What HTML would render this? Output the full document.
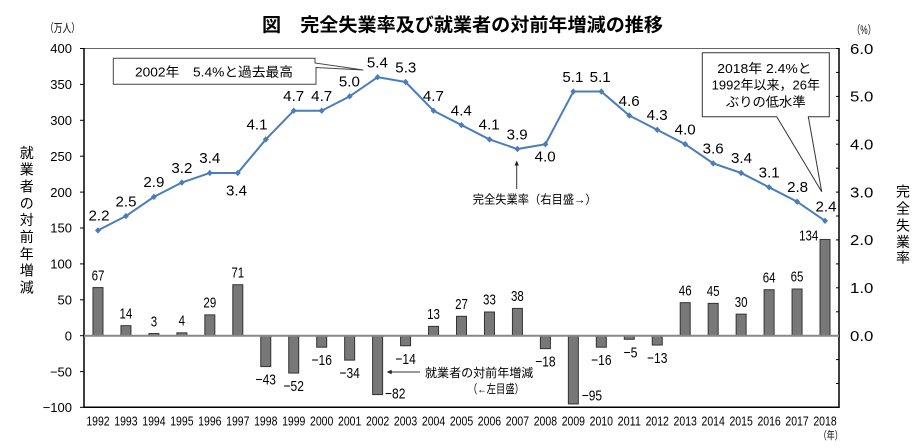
<!DOCTYPE html>
<html><head><meta charset="utf-8"><style>
html,body{margin:0;padding:0;background:#fff;}
svg{display:block;}
text{font-family:"Liberation Sans","Noto Sans CJK JP",sans-serif;fill:#000;}
</style></head><body>
<svg width="921" height="448" viewBox="0 0 921 448" xmlns="http://www.w3.org/2000/svg">

<!-- title -->
<text x="262" y="31.5" font-size="18.5" font-weight="bold" textLength="401" lengthAdjust="spacingAndGlyphs">図　完全失業率及び就業者の対前年増減の推移</text>
<text x="45" y="32" font-size="11.5" textLength="35" lengthAdjust="spacingAndGlyphs">（万人）</text>
<text x="852" y="34" font-size="11.5" textLength="24" lengthAdjust="spacingAndGlyphs">（%）</text>

<!-- frame -->
<line x1="84" y1="48.5" x2="839" y2="48.5" stroke="#666" stroke-width="1"/>
<line x1="84" y1="48" x2="84" y2="408" stroke="#000" stroke-width="1.5"/>
<line x1="839" y1="48" x2="839" y2="408" stroke="#000" stroke-width="1.5"/>
<line x1="83.5" y1="407.3" x2="839.5" y2="407.3" stroke="#000" stroke-width="1.5"/>

<!-- left ticks -->
<g stroke="#000" stroke-width="1">
<line x1="80" y1="48.5" x2="84" y2="48.5"/><line x1="80" y1="84.4" x2="84" y2="84.4"/>
<line x1="80" y1="120.3" x2="84" y2="120.3"/><line x1="80" y1="156.2" x2="84" y2="156.2"/>
<line x1="80" y1="192.1" x2="84" y2="192.1"/><line x1="80" y1="228" x2="84" y2="228"/>
<line x1="80" y1="263.9" x2="84" y2="263.9"/><line x1="80" y1="299.8" x2="84" y2="299.8"/>
<line x1="80" y1="335.7" x2="84" y2="335.7"/><line x1="80" y1="371.6" x2="84" y2="371.6"/>
<line x1="80" y1="407.3" x2="84" y2="407.3"/>
</g>
<!-- right ticks every 0.5 -->
<g stroke="#000" stroke-width="1">
<line x1="836" y1="48.5" x2="839" y2="48.5"/><line x1="836" y1="72.4" x2="839" y2="72.4"/>
<line x1="836" y1="96.4" x2="839" y2="96.4"/><line x1="836" y1="120.3" x2="839" y2="120.3"/>
<line x1="836" y1="144.2" x2="839" y2="144.2"/><line x1="836" y1="168.2" x2="839" y2="168.2"/>
<line x1="836" y1="192.1" x2="839" y2="192.1"/><line x1="836" y1="216" x2="839" y2="216"/>
<line x1="836" y1="239.9" x2="839" y2="239.9"/><line x1="836" y1="263.9" x2="839" y2="263.9"/>
<line x1="836" y1="287.8" x2="839" y2="287.8"/><line x1="836" y1="311.8" x2="839" y2="311.8"/>
<line x1="836" y1="335.7" x2="839" y2="335.7"/><line x1="836" y1="359.6" x2="839" y2="359.6"/>
<line x1="836" y1="383.5" x2="839" y2="383.5"/>
</g>

<!-- left axis labels -->
<g font-size="13" text-anchor="end">
<text x="72" y="53.2">400</text><text x="72" y="89.1">350</text><text x="72" y="125">300</text>
<text x="72" y="160.9">250</text><text x="72" y="196.8">200</text><text x="72" y="232.7">150</text>
<text x="72" y="268.6">100</text><text x="72" y="304.5">50</text><text x="72" y="340.4">0</text>
<text x="72" y="376.3">−50</text><text x="72" y="412">−100</text>
</g>
<!-- right axis labels -->
<g font-size="14.5">
<text x="850" y="53.8" textLength="23.3" lengthAdjust="spacingAndGlyphs">6.0</text>
<text x="850" y="101.7" textLength="23.3" lengthAdjust="spacingAndGlyphs">5.0</text>
<text x="850" y="149.5" textLength="23.3" lengthAdjust="spacingAndGlyphs">4.0</text>
<text x="850" y="197.4" textLength="23.3" lengthAdjust="spacingAndGlyphs">3.0</text>
<text x="850" y="245.2" textLength="23.3" lengthAdjust="spacingAndGlyphs">2.0</text>
<text x="850" y="293.1" textLength="23.3" lengthAdjust="spacingAndGlyphs">1.0</text>
<text x="850" y="341" textLength="23.3" lengthAdjust="spacingAndGlyphs">0.0</text>
</g>

<!-- vertical axis titles -->
<g font-size="14" text-anchor="middle">
<text x="26.7" y="157.8">就</text><text x="26.7" y="174.6">業</text><text x="26.7" y="191.5">者</text>
<text x="26.7" y="208.3">の</text><text x="26.7" y="225.2">対</text><text x="26.7" y="242">前</text>
<text x="26.7" y="258.9">年</text><text x="26.7" y="275.7">増</text><text x="26.7" y="292.6">減</text>
<text x="903" y="196.3">完</text><text x="903" y="213.3">全</text><text x="903" y="230.3">失</text>
<text x="903" y="246.8">業</text><text x="903" y="262.6">率</text>
</g>

<!-- bars -->
<g fill="#787878" stroke="#333" stroke-width="1">
<rect x="92.98" y="287.58" width="10" height="48.12"/>
<rect x="120.94" y="325.65" width="10" height="10.05"/>
<rect x="148.91" y="333.55" width="10" height="2.15"/>
<rect x="176.87" y="332.83" width="10" height="2.87"/>
<rect x="204.83" y="314.87" width="10" height="20.83"/>
<rect x="232.80" y="284.71" width="10" height="50.99"/>
<rect x="260.76" y="335.7" width="10" height="30.88"/>
<rect x="288.72" y="335.7" width="10" height="37.35"/>
<rect x="316.69" y="335.7" width="10" height="11.49"/>
<rect x="344.65" y="335.7" width="10" height="24.42"/>
<rect x="372.61" y="335.7" width="10" height="58.89"/>
<rect x="400.57" y="335.7" width="10" height="10.05"/>
<rect x="428.54" y="326.36" width="10" height="9.34"/>
<rect x="456.50" y="316.31" width="10" height="19.39"/>
<rect x="484.46" y="312.0" width="10" height="23.70"/>
<rect x="512.43" y="308.41" width="10" height="27.29"/>
<rect x="540.39" y="335.7" width="10" height="12.93"/>
<rect x="568.35" y="335.7" width="10" height="68.23"/>
<rect x="596.32" y="335.7" width="10" height="11.49"/>
<rect x="624.28" y="335.7" width="10" height="3.59"/>
<rect x="652.24" y="335.7" width="10" height="9.34"/>
<rect x="680.20" y="302.66" width="10" height="33.04"/>
<rect x="708.17" y="303.38" width="10" height="32.32"/>
<rect x="736.13" y="314.15" width="10" height="21.55"/>
<rect x="764.09" y="289.74" width="10" height="45.96"/>
<rect x="792.06" y="289.02" width="10" height="46.68"/>
<rect x="820.02" y="239.46" width="10" height="96.24"/>
</g>
<!-- zero line -->
<line x1="84" y1="335.7" x2="839" y2="335.7" stroke="#888" stroke-width="2"/>

<!-- bar labels -->
<g font-size="15" text-anchor="middle">
<text x="97.98" y="280.3" textLength="12.8" lengthAdjust="spacingAndGlyphs">67</text>
<text x="125.94" y="318.35" textLength="12.8" lengthAdjust="spacingAndGlyphs">14</text>
<text x="153.91" y="326.25" textLength="6.4" lengthAdjust="spacingAndGlyphs">3</text>
<text x="181.87" y="325.5" textLength="6.4" lengthAdjust="spacingAndGlyphs">4</text>
<text x="209.83" y="307.6" textLength="12.8" lengthAdjust="spacingAndGlyphs">29</text>
<text x="237.80" y="277.4" textLength="12.8" lengthAdjust="spacingAndGlyphs">71</text>
<text x="265.76" y="384.6" textLength="20.4" lengthAdjust="spacingAndGlyphs">−43</text>
<text x="293.72" y="391.05" textLength="20.4" lengthAdjust="spacingAndGlyphs">−52</text>
<text x="321.69" y="365.2" textLength="20.4" lengthAdjust="spacingAndGlyphs">−16</text>
<text x="349.65" y="378.1" textLength="20.4" lengthAdjust="spacingAndGlyphs">−34</text>
<text x="395.2" y="398.6" textLength="20.4" lengthAdjust="spacingAndGlyphs">−82</text>
<text x="405.57" y="363.75" textLength="20.4" lengthAdjust="spacingAndGlyphs">−14</text>
<text x="433.54" y="319.1" textLength="12.8" lengthAdjust="spacingAndGlyphs">13</text>
<text x="461.50" y="309.0" textLength="12.8" lengthAdjust="spacingAndGlyphs">27</text>
<text x="489.46" y="304.7" textLength="12.8" lengthAdjust="spacingAndGlyphs">33</text>
<text x="517.43" y="301.1" textLength="12.8" lengthAdjust="spacingAndGlyphs">38</text>
<text x="545.39" y="366.6" textLength="20.4" lengthAdjust="spacingAndGlyphs">−18</text>
<text x="591.9" y="400.3" textLength="20.4" lengthAdjust="spacingAndGlyphs">−95</text>
<text x="601.32" y="365.2" textLength="20.4" lengthAdjust="spacingAndGlyphs">−16</text>
<text x="630.5" y="357.3" textLength="14" lengthAdjust="spacingAndGlyphs">−5</text>
<text x="657.24" y="363.0" textLength="20.4" lengthAdjust="spacingAndGlyphs">−13</text>
<text x="685.20" y="295.4" textLength="12.8" lengthAdjust="spacingAndGlyphs">46</text>
<text x="713.17" y="296.1" textLength="12.8" lengthAdjust="spacingAndGlyphs">45</text>
<text x="741.13" y="306.9" textLength="12.8" lengthAdjust="spacingAndGlyphs">30</text>
<text x="769.09" y="282.4" textLength="12.8" lengthAdjust="spacingAndGlyphs">64</text>
<text x="797.06" y="281.7" textLength="12.8" lengthAdjust="spacingAndGlyphs">65</text>
<text x="808.7" y="240.3" textLength="19.2" lengthAdjust="spacingAndGlyphs">134</text>
</g>

<!-- category labels -->
<g font-size="13" text-anchor="middle">
<text x="97.98" y="425.3" textLength="23.3" lengthAdjust="spacingAndGlyphs">1992</text>
<text x="125.94" y="425.3" textLength="23.3" lengthAdjust="spacingAndGlyphs">1993</text>
<text x="153.91" y="425.3" textLength="23.3" lengthAdjust="spacingAndGlyphs">1994</text>
<text x="181.87" y="425.3" textLength="23.3" lengthAdjust="spacingAndGlyphs">1995</text>
<text x="209.83" y="425.3" textLength="23.3" lengthAdjust="spacingAndGlyphs">1996</text>
<text x="237.80" y="425.3" textLength="23.3" lengthAdjust="spacingAndGlyphs">1997</text>
<text x="265.76" y="425.3" textLength="23.3" lengthAdjust="spacingAndGlyphs">1998</text>
<text x="293.72" y="425.3" textLength="23.3" lengthAdjust="spacingAndGlyphs">1999</text>
<text x="321.69" y="425.3" textLength="23.3" lengthAdjust="spacingAndGlyphs">2000</text>
<text x="349.65" y="425.3" textLength="23.3" lengthAdjust="spacingAndGlyphs">2001</text>
<text x="377.61" y="425.3" textLength="23.3" lengthAdjust="spacingAndGlyphs">2002</text>
<text x="405.57" y="425.3" textLength="23.3" lengthAdjust="spacingAndGlyphs">2003</text>
<text x="433.54" y="425.3" textLength="23.3" lengthAdjust="spacingAndGlyphs">2004</text>
<text x="461.50" y="425.3" textLength="23.3" lengthAdjust="spacingAndGlyphs">2005</text>
<text x="489.46" y="425.3" textLength="23.3" lengthAdjust="spacingAndGlyphs">2006</text>
<text x="517.43" y="425.3" textLength="23.3" lengthAdjust="spacingAndGlyphs">2007</text>
<text x="545.39" y="425.3" textLength="23.3" lengthAdjust="spacingAndGlyphs">2008</text>
<text x="573.35" y="425.3" textLength="23.3" lengthAdjust="spacingAndGlyphs">2009</text>
<text x="601.32" y="425.3" textLength="23.3" lengthAdjust="spacingAndGlyphs">2010</text>
<text x="629.28" y="425.3" textLength="23.3" lengthAdjust="spacingAndGlyphs">2011</text>
<text x="657.24" y="425.3" textLength="23.3" lengthAdjust="spacingAndGlyphs">2012</text>
<text x="685.20" y="425.3" textLength="23.3" lengthAdjust="spacingAndGlyphs">2013</text>
<text x="713.17" y="425.3" textLength="23.3" lengthAdjust="spacingAndGlyphs">2014</text>
<text x="741.13" y="425.3" textLength="23.3" lengthAdjust="spacingAndGlyphs">2015</text>
<text x="769.09" y="425.3" textLength="23.3" lengthAdjust="spacingAndGlyphs">2016</text>
<text x="797.06" y="425.3" textLength="23.3" lengthAdjust="spacingAndGlyphs">2017</text>
<text x="825.02" y="425.3" textLength="23.3" lengthAdjust="spacingAndGlyphs">2018</text>
</g>
<text x="830.7" y="439" font-size="11" text-anchor="middle" textLength="24" lengthAdjust="spacingAndGlyphs">（年）</text>

<!-- rate line -->
<polyline fill="none" stroke="#4a7ebb" stroke-width="2" stroke-linejoin="round" points="97.98,230.39 125.94,216.02 153.91,196.88 181.87,182.52 209.83,172.94 237.80,172.94 265.76,139.43 293.72,110.71 321.69,110.71 349.65,96.35 377.61,77.20 405.57,81.99 433.54,110.71 461.50,125.07 489.46,139.43 517.43,149.01 545.39,144.22 573.35,91.56 601.32,91.56 629.28,115.50 657.24,129.86 685.20,144.22 713.17,163.37 741.13,172.94 769.09,187.30 797.06,201.66 825.02,220.81"/>
<g fill="#4a7ebb">
<path d="M97.98,227.19l3,3.2l-3,3.2l-3,-3.2z"/>
<path d="M125.94,212.82l3,3.2l-3,3.2l-3,-3.2z"/>
<path d="M153.91,193.68l3,3.2l-3,3.2l-3,-3.2z"/>
<path d="M181.87,179.32l3,3.2l-3,3.2l-3,-3.2z"/>
<path d="M209.83,169.74l3,3.2l-3,3.2l-3,-3.2z"/>
<path d="M237.80,169.74l3,3.2l-3,3.2l-3,-3.2z"/>
<path d="M265.76,136.23l3,3.2l-3,3.2l-3,-3.2z"/>
<path d="M293.72,107.51l3,3.2l-3,3.2l-3,-3.2z"/>
<path d="M321.69,107.51l3,3.2l-3,3.2l-3,-3.2z"/>
<path d="M349.65,93.15l3,3.2l-3,3.2l-3,-3.2z"/>
<path d="M377.61,74.00l3,3.2l-3,3.2l-3,-3.2z"/>
<path d="M405.57,78.79l3,3.2l-3,3.2l-3,-3.2z"/>
<path d="M433.54,107.51l3,3.2l-3,3.2l-3,-3.2z"/>
<path d="M461.50,121.87l3,3.2l-3,3.2l-3,-3.2z"/>
<path d="M489.46,136.23l3,3.2l-3,3.2l-3,-3.2z"/>
<path d="M517.43,145.81l3,3.2l-3,3.2l-3,-3.2z"/>
<path d="M545.39,141.02l3,3.2l-3,3.2l-3,-3.2z"/>
<path d="M573.35,88.36l3,3.2l-3,3.2l-3,-3.2z"/>
<path d="M601.32,88.36l3,3.2l-3,3.2l-3,-3.2z"/>
<path d="M629.28,112.30l3,3.2l-3,3.2l-3,-3.2z"/>
<path d="M657.24,126.66l3,3.2l-3,3.2l-3,-3.2z"/>
<path d="M685.20,141.02l3,3.2l-3,3.2l-3,-3.2z"/>
<path d="M713.17,160.17l3,3.2l-3,3.2l-3,-3.2z"/>
<path d="M741.13,169.74l3,3.2l-3,3.2l-3,-3.2z"/>
<path d="M769.09,184.10l3,3.2l-3,3.2l-3,-3.2z"/>
<path d="M797.06,198.46l3,3.2l-3,3.2l-3,-3.2z"/>
<path d="M825.02,217.61l3,3.2l-3,3.2l-3,-3.2z"/>
</g>

<!-- rate labels -->
<g font-size="14.5" text-anchor="middle">
<text x="99" y="220.7" textLength="21" lengthAdjust="spacingAndGlyphs">2.2</text>
<text x="126" y="206.3" textLength="21" lengthAdjust="spacingAndGlyphs">2.5</text>
<text x="153.9" y="187.2" textLength="21" lengthAdjust="spacingAndGlyphs">2.9</text>
<text x="181.9" y="172.8" textLength="21" lengthAdjust="spacingAndGlyphs">3.2</text>
<text x="209.8" y="163.2" textLength="21" lengthAdjust="spacingAndGlyphs">3.4</text>
<text x="236.5" y="195.3" textLength="21" lengthAdjust="spacingAndGlyphs">3.4</text>
<text x="257" y="129.3" textLength="21" lengthAdjust="spacingAndGlyphs">4.1</text>
<text x="293.7" y="101.0" textLength="21" lengthAdjust="spacingAndGlyphs">4.7</text>
<text x="321.7" y="101.0" textLength="21" lengthAdjust="spacingAndGlyphs">4.7</text>
<text x="349.4" y="86.7" textLength="21" lengthAdjust="spacingAndGlyphs">5.0</text>
<text x="377.4" y="67.5" textLength="21" lengthAdjust="spacingAndGlyphs">5.4</text>
<text x="405.8" y="72.3" textLength="21" lengthAdjust="spacingAndGlyphs">5.3</text>
<text x="433.4" y="101.0" textLength="21" lengthAdjust="spacingAndGlyphs">4.7</text>
<text x="461.3" y="115.4" textLength="21" lengthAdjust="spacingAndGlyphs">4.4</text>
<text x="489.2" y="129.7" textLength="21" lengthAdjust="spacingAndGlyphs">4.1</text>
<text x="517.2" y="139.3" textLength="21" lengthAdjust="spacingAndGlyphs">3.9</text>
<text x="545.2" y="161.3" textLength="21" lengthAdjust="spacingAndGlyphs">4.0</text>
<text x="572.9" y="81.9" textLength="21" lengthAdjust="spacingAndGlyphs">5.1</text>
<text x="600.2" y="81.9" textLength="21" lengthAdjust="spacingAndGlyphs">5.1</text>
<text x="629.2" y="105.8" textLength="21" lengthAdjust="spacingAndGlyphs">4.6</text>
<text x="657.2" y="120.2" textLength="21" lengthAdjust="spacingAndGlyphs">4.3</text>
<text x="685.2" y="134.5" textLength="21" lengthAdjust="spacingAndGlyphs">4.0</text>
<text x="713.2" y="153.7" textLength="21" lengthAdjust="spacingAndGlyphs">3.6</text>
<text x="741.5" y="163.2" textLength="21" lengthAdjust="spacingAndGlyphs">3.4</text>
<text x="769.2" y="177.6" textLength="21" lengthAdjust="spacingAndGlyphs">3.1</text>
<text x="797.6" y="192.0" textLength="21" lengthAdjust="spacingAndGlyphs">2.8</text>
<text x="826" y="211.3" textLength="21" lengthAdjust="spacingAndGlyphs">2.4</text>
</g>

<!-- callout 1 -->
<path d="M113.3,58.3 H315 V63 L363.3,70 L316,67.5 V84.3 H113.3 Z" fill="#fff" stroke="#444" stroke-width="1"/>
<text x="135" y="76.3" font-size="13" textLength="158" lengthAdjust="spacingAndGlyphs">2002年　5.4%と過去最高</text>

<!-- callout 2 -->
<path d="M702.3,52.7 H829.3 V116.7 H808.3 L821.7,191.7 L776.7,116.7 H702.3 Z" fill="#fff" stroke="#333" stroke-width="1"/>
<g font-size="13" text-anchor="middle">
<text x="764.5" y="73" textLength="94.4" lengthAdjust="spacingAndGlyphs">2018年 2.4%と</text>
<text x="765.8" y="89.7" textLength="108.3" lengthAdjust="spacingAndGlyphs">1992年以来，26年</text>
<text x="765.8" y="106.4" textLength="79.7" lengthAdjust="spacingAndGlyphs">ぶりの低水準</text>
</g>

<!-- arrow annotations -->
<line x1="516.7" y1="189" x2="516.7" y2="165" stroke="#333" stroke-width="1"/>
<path d="M516.7,160.5 l-2.2,5 h4.4z" fill="#222"/>
<text x="472.7" y="203.5" font-size="12" textLength="124" lengthAdjust="spacingAndGlyphs">完全失業率（右目盛→）</text>

<line x1="420" y1="372" x2="391" y2="372" stroke="#333" stroke-width="1"/>
<path d="M386.7,372 l5,-2.2 v4.4z" fill="#222"/>
<text x="425" y="377.2" font-size="12" textLength="108.3" lengthAdjust="spacingAndGlyphs">就業者の対前年増減</text>
<text x="468" y="392.8" font-size="12" textLength="56" lengthAdjust="spacingAndGlyphs">（←左目盛）</text>
</svg>
</body></html>
